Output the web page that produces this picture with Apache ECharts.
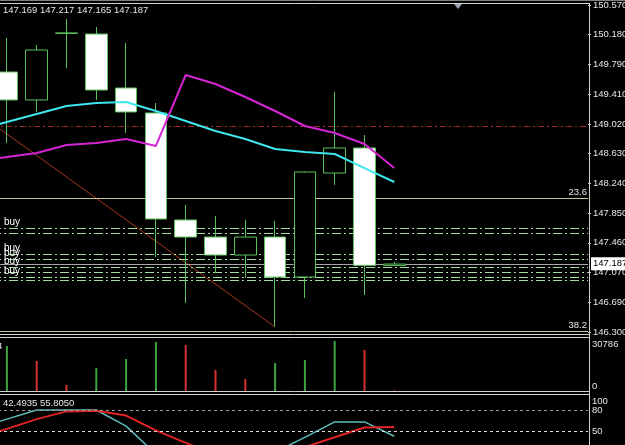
<!DOCTYPE html>
<html>
<head>
<meta charset="utf-8">
<title>Chart</title>
<script src="https://cdn.jsdelivr.net/npm/echarts@6/dist/echarts.min.js"></script>
<style>
  html, body { margin: 0; padding: 0; background: #000; }
  #main { width: 625px; height: 445px; }
</style>
</head>
<body>
<div id="main"></div>
<script>
// bars: open, close, low, high
var ohlc = [
  [149.695, 149.330, 148.768, 150.139],
  [149.330, 149.982, 149.173, 150.048],
  [150.205, 150.200, 149.747, 150.387],
  [150.191, 149.460, 149.330, 150.283],
  [149.486, 149.173, 148.899, 150.074],
  [149.160, 147.776, 147.279, 149.290],
  [147.763, 147.540, 146.679, 147.958],
  [147.540, 147.305, 147.070, 147.815],
  [147.305, 147.540, 147.005, 147.763],
  [147.540, 147.018, 146.365, 147.750],
  [147.018, 148.389, 146.744, 148.400],
  [148.376, 148.703, 148.220, 149.434],
  [148.703, 147.170, 146.783, 148.872],
  [147.169, 147.187, 147.165, 147.217]
];
// first value of each line = bar before the visible ones
var maCyan = [148.937, 149.042, 149.147, 149.251, 149.290, 149.303, 149.186, 149.055,
  148.925, 148.820, 148.690, 148.650, 148.624, 148.441, 148.259];
var maMagenta = [148.533, 148.585, 148.637, 148.742, 148.768, 148.820, 148.729, 149.656,
  149.538, 149.369, 149.186, 148.990, 148.899, 148.755, 148.441];
var volumes = [27164, 18110, 3622, 13884, 19317, 29578, 27768, 12677, 7244, 16902, 18713, 30183, 24750, 300];
var volumeUp = [1, 0, 0, 1, 1, 1, 0, 0, 0, 1, 1, 1, 0, 0];
var stochMain = [54, 67, 80, 80, 80, 57, 17, 25, 10, 20, 20, 41, 63, 63, 42.5];
var stochSignal = [39, 53, 67, 78, 79, 72, 51, 33, 17, 18, 17, 27, 41, 55, 55.8];
var priceTicks = ['146.300', '146.690', '147.070', '147.460', '147.850', '148.240',
  '148.630', '149.020', '149.410', '149.790', '150.180', '150.570'];
var priceMin = 146.3, priceMax = 150.57;
var volMax = 30786;
var stochLevels = [80, 50];
var buyLevels = [147.645, 147.593, 147.305, 147.253, 147.136, 147.083, 147.018, 146.966];
var buyLabeled = [1, 0, 1, 1, 1, 0, 1, 0];
var fibLevels = [{ name: '23.6', price: 148.05 }, { name: '38.2', price: 146.313 }];
var redLevel = 148.99;
var trendLine = [[-0.23, 148.95], [9, 146.365]];
var bid = 147.187;
var headerText = '147.169 147.217 147.165 147.187';
var stochText = '42.4935 55.8050';

var FONT = '"Liberation Sans", Arial, sans-serif';
var FS = 9.5;
var TXT = '#e6e6e6';
var GREEN = '#5cc25c';
var FRAME = '#d0d0d0';
var slots = 20;
var cats = [];
for (var i = 0; i < slots; i++) cats.push(String(i));
var step = (priceMax - priceMin) / (priceTicks.length - 1);

function indexed(arr) {
  return arr.map(function (v, i) { return [i - 1, v]; });
}

var grids = [
  { left: -8, width: 596, top: 5, height: 327, outerBoundsMode: 'none' },
  { left: -8, width: 596, top: 340, height: 51, outerBoundsMode: 'none' },
  { left: -8, width: 596, top: 396, height: 49, outerBoundsMode: 'none' }
];

function catAxis(g) {
  return { type: 'category', gridIndex: g, data: cats, show: false };
}
function valAxis(g) {
  return { type: 'value', gridIndex: g, min: -0.5, max: slots - 0.5, show: false };
}

var marks = [];
marks.push({ yAxis: redLevel, lineStyle: { color: '#a02a2a', type: [6, 3, 2, 3], width: 1 }, label: { show: false } });
fibLevels.forEach(function (f) {
  marks.push({ yAxis: f.price, lineStyle: { color: '#c9c59c', type: 'solid', width: 1 },
    label: { show: true, position: 'insideEndTop', formatter: f.name, color: TXT, fontSize: FS, fontFamily: FONT, distance: 1 } });
});
buyLevels.forEach(function (p, i) {
  marks.push({ yAxis: p, lineStyle: { color: '#a4dca4', type: [9, 3, 2, 3], width: 1 },
    label: { show: !!buyLabeled[i], position: 'insideStartTop', formatter: 'buy', color: '#fff',
      fontSize: 10, fontFamily: FONT, distance: 1, padding: [0, 0, 0, 11] } });
});
marks.push({ yAxis: bid, lineStyle: { color: '#a8a8a8', type: 'solid', width: 1 },
  label: { show: true, position: 'end', formatter: bid.toFixed(3), color: '#000', backgroundColor: '#fff',
    padding: [2, 2, 1, 2], fontSize: FS, fontFamily: FONT, distance: 3 } });

var option = {
  backgroundColor: '#000',
  animation: false,
  grid: grids,
  xAxis: [catAxis(0), catAxis(1), catAxis(2), valAxis(0), valAxis(2)],
  yAxis: [
    {
      gridIndex: 0, type: 'value', position: 'right', min: priceMin, max: priceMax, interval: step,
      axisLine: { show: false, onZero: false }, splitLine: { show: false },
      axisTick: { show: true, length: 3, lineStyle: { color: FRAME } },
      axisLabel: {
        color: TXT, fontSize: FS, fontFamily: FONT, margin: 5,
        formatter: function (v) { return priceTicks[Math.round((v - priceMin) / step)] || ''; }
      }
    },
    {
      gridIndex: 1, type: 'value', position: 'right', min: 0, max: volMax, interval: volMax,
      axisLine: { show: false, onZero: false }, splitLine: { show: false }, axisTick: { show: false },
      axisLabel: {
        color: TXT, fontSize: FS, fontFamily: FONT, margin: 4,
        formatter: function (v) { return v === 0 ? '{b|0}' : '{t|' + v + '}'; },
        rich: {
          t: { color: TXT, fontSize: FS, fontFamily: FONT, padding: [8, 0, 0, 0] },
          b: { color: TXT, fontSize: FS, fontFamily: FONT, padding: [0, 0, 10, 0] }
        }
      }
    },
    {
      gridIndex: 2, type: 'value', position: 'right', min: 30, max: 100, interval: 10,
      axisLine: { show: false, onZero: false }, splitLine: { show: false }, axisTick: { show: false },
      axisLabel: {
        color: TXT, fontSize: FS, fontFamily: FONT, margin: 4,
        formatter: function (v) {
          if (v === 100) return '{t|100}';
          return (v === 80 || v === 50) ? String(v) : '';
        },
        rich: { t: { color: TXT, fontSize: FS, fontFamily: FONT, padding: [10, 0, 0, 0] } }
      }
    }
  ],
  series: [
    {
      type: 'line', xAxisIndex: 3, yAxisIndex: 0, data: trendLine, symbol: 'none',
      lineStyle: { color: '#a8361e', width: 1 }, silent: true, z: 1
    },
    {
      type: 'candlestick', xAxisIndex: 0, yAxisIndex: 0, data: ohlc, barWidth: 22, z: 3,
      itemStyle: { color: '#000', color0: '#fff', borderColor: GREEN, borderColor0: GREEN, borderWidth: 1 },
      markLine: { symbol: ['none', 'none'], silent: true, data: marks, z: 2 }
    },
    {
      type: 'line', xAxisIndex: 3, yAxisIndex: 0, data: indexed(maCyan), symbol: 'none',
      lineStyle: { color: '#3ee6ee', width: 2 }, z: 4
    },
    {
      type: 'line', xAxisIndex: 3, yAxisIndex: 0, data: indexed(maMagenta), symbol: 'none',
      lineStyle: { color: '#d424d4', width: 2 }, z: 4
    },
    {
      type: 'bar', xAxisIndex: 1, yAxisIndex: 1, barWidth: 2,
      data: volumes.map(function (v, i) {
        return { value: v, itemStyle: { color: volumeUp[i] ? '#3fa33f' : '#d83030' } };
      })
    },
    {
      type: 'line', xAxisIndex: 4, yAxisIndex: 2, data: indexed(stochMain), symbol: 'none',
      lineStyle: { color: '#5cbcbc', width: 1.5 }, z: 3,
      markLine: {
        symbol: ['none', 'none'], silent: true, label: { show: false },
        data: stochLevels.map(function (l) {
          return { yAxis: l, lineStyle: { color: l === 80 ? '#9a9a9a' : '#e0e0e0', type: [3, 3], width: 1 } };
        })
      }
    },
    {
      type: 'line', xAxisIndex: 4, yAxisIndex: 2, data: indexed(stochSignal), symbol: 'none',
      lineStyle: { color: '#e02424', width: 2 }, z: 3
    }
  ],
  graphic: [
    { type: 'line', shape: { x1: 0, y1: 0.5, x2: 625, y2: 0.5 }, style: { stroke: '#808080', lineWidth: 1 } },
    { type: 'line', shape: { x1: 0, y1: 3.5, x2: 589, y2: 3.5 }, style: { stroke: FRAME, lineWidth: 1 } },
    { type: 'line', shape: { x1: 0, y1: 334.5, x2: 589, y2: 334.5 }, style: { stroke: FRAME, lineWidth: 1 } },
    { type: 'line', shape: { x1: 0, y1: 337.5, x2: 589, y2: 337.5 }, style: { stroke: FRAME, lineWidth: 1 } },
    { type: 'line', shape: { x1: 0, y1: 391.5, x2: 589, y2: 391.5 }, style: { stroke: FRAME, lineWidth: 1 } },
    { type: 'line', shape: { x1: 0, y1: 394.5, x2: 589, y2: 394.5 }, style: { stroke: FRAME, lineWidth: 1 } },
    { type: 'line', shape: { x1: 589.5, y1: 3, x2: 589.5, y2: 445 }, style: { stroke: FRAME, lineWidth: 1 } },
    { type: 'polygon', shape: { points: [[454, 4], [462, 4], [458, 9]] }, style: { fill: '#9aa3b0' } },
    { type: 'text', left: 3, top: 5, style: { text: headerText, fill: TXT, font: '9.5px ' + FONT } },
    { type: 'text', left: 3, top: 398, style: { text: stochText, fill: TXT, font: '9.5px ' + FONT } },
    { type: 'text', left: -3, top: 341, style: { text: '4', fill: TXT, font: '9.5px ' + FONT } }
  ]
};

var chart = echarts.init(document.getElementById('main'));
chart.setOption(option);
</script>
</body>
</html>
